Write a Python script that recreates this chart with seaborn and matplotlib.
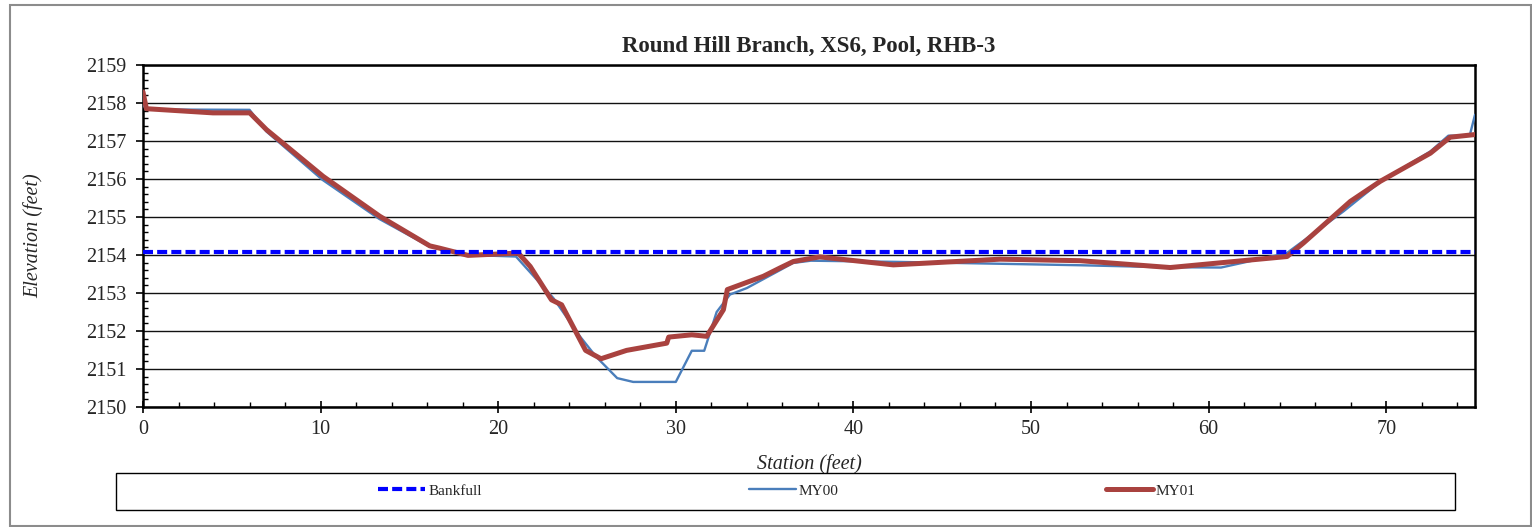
import numpy as np
import pandas as pd
import matplotlib
matplotlib.use("Agg")
import matplotlib.pyplot as plt
from matplotlib.ticker import MultipleLocator
from matplotlib.lines import Line2D
from matplotlib.patches import Rectangle
import seaborn as sns

# Cross-section survey data (station in feet, elevation in feet)
my00_station = [0.0, 0.2, 6.0, 6.95, 10.1, 13.3, 16.15, 18.3, 21.0, 23.1, 24.6, 25.5,
                26.7, 27.6, 30.0, 30.9, 31.6, 32.3, 33.05, 34.0, 35.9, 36.6, 37.6,
                42.3, 52.8, 57.3, 60.7, 64.4, 67.6, 69.7, 72.5, 73.5, 74.7, 75.0]
my00_elev = [2157.95, 2157.83, 2157.82, 2157.25, 2155.98, 2154.95, 2154.22, 2154.00,
             2153.96, 2152.87, 2151.86, 2151.33, 2150.76, 2150.66, 2150.66, 2151.48,
             2151.48, 2152.50, 2152.96, 2153.13, 2153.61, 2153.79, 2153.85, 2153.82,
             2153.73, 2153.68, 2153.67, 2154.05, 2155.15, 2155.94, 2156.73, 2157.14,
             2157.14, 2157.69]

my01_station = [0.0, 0.19, 3.94, 6.01, 6.95, 10.14, 13.33, 16.15, 16.7, 18.3, 21.13,
                21.8, 23.0, 23.57, 24.92, 25.79, 27.23, 29.49, 29.6, 30.9, 31.74,
                32.68, 32.9, 34.93, 35.87, 36.62, 38.1, 42.25, 48.26, 52.77, 57.84,
                64.42, 65.35, 67.98, 69.67, 72.49, 73.6, 75.0]
my01_elev = [2158.29, 2157.85, 2157.74, 2157.74, 2157.30, 2156.07, 2155.02, 2154.24,
             2154.18, 2153.99, 2154.05, 2153.70, 2152.82, 2152.69, 2151.49, 2151.27,
             2151.49, 2151.68, 2151.84, 2151.90, 2151.86, 2152.56, 2153.09, 2153.44,
             2153.66, 2153.83, 2153.95, 2153.74, 2153.89, 2153.85, 2153.67, 2153.96,
             2154.32, 2155.41, 2155.94, 2156.68, 2157.10, 2157.17]

bankfull_station = [0.0, 75.0]
bankfull_elev = [2154.09, 2154.09]

title = "Round Hill Branch, XS6, Pool, RHB-3"
series_labels = ["Bankfull", "MY00", "MY01"]
series_colors = ["#0000FF", "#4A7EBB", "#A9423F"]

sns.set_style("white")
plt.rcParams["font.family"] = ["Liberation Serif", "DejaVu Serif"]

W, H = 1532, 527
fig = plt.figure(figsize=(W / 100, H / 100), dpi=100)
ax = fig.add_axes([143 / W, 1 - 407 / H, (1475 - 143) / W, (407 - 65) / H])

df00 = pd.DataFrame({"Station": my00_station, "Elevation": my00_elev})
df01 = pd.DataFrame({"Station": my01_station, "Elevation": my01_elev})
dfbf = pd.DataFrame({"Station": bankfull_station, "Elevation": bankfull_elev})

bf_style = (0, (2.4, 1.0))

sns.lineplot(data=df00, x="Station", y="Elevation", sort=False, estimator=None,
             color=series_colors[1], lw=1.7, ax=ax, zorder=3)
sns.lineplot(data=df01, x="Station", y="Elevation", sort=False, estimator=None,
             color=series_colors[2], lw=3.6, ax=ax, zorder=4)
sns.lineplot(data=dfbf, x="Station", y="Elevation", sort=False, estimator=None,
             color=series_colors[0], lw=3.0, ax=ax, zorder=5)
ax.lines[-1].set_linestyle(bf_style)

ax.set_xlim(0, 75)
ax.set_ylim(2150, 2159)
ax.xaxis.set_major_locator(MultipleLocator(10))
ax.xaxis.set_minor_locator(MultipleLocator(2))
ax.yaxis.set_major_locator(MultipleLocator(1))
ax.yaxis.set_minor_locator(MultipleLocator(0.2))

ax.grid(axis="y", which="major", color="#111111", lw=1.0, zorder=1)
ax.grid(axis="x", visible=False)
ax.set_axisbelow(True)

for side in ["left", "right", "top", "bottom"]:
    ax.spines[side].set_visible(True)
    ax.spines[side].set_color("black")
    ax.spines[side].set_linewidth(1.8)

ax.tick_params(axis="x", which="major", bottom=True, direction="inout", length=8,
               width=1.2, color="black", labelsize=14.5, pad=5)
ax.tick_params(axis="x", which="minor", bottom=True, direction="in", length=3.5,
               width=1.0, color="black")
ax.tick_params(axis="y", which="major", left=True, direction="out", length=5,
               width=1.2, color="black", labelsize=14.5, pad=7)
ax.tick_params(axis="y", which="minor", left=True, direction="in", length=3.5,
               width=1.0, color="black")

ax.set_xlabel("Station (feet)", fontstyle="italic", fontsize=14.5)
ax.set_ylabel("Elevation (feet)", fontstyle="italic", fontsize=14.5)
ax.xaxis.set_label_coords(0.5, -0.137)
ax.yaxis.set_label_coords(-0.075, 0.5)

ax.text(0.5, 1.0556, title, transform=ax.transAxes, ha="center", va="center",
        fontsize=16.5, fontweight="bold")

handles = [
    Line2D([], [], color=series_colors[0], lw=3.0, linestyle=bf_style),
    Line2D([], [], color=series_colors[1], lw=1.7),
    Line2D([], [], color=series_colors[2], lw=3.6),
]
fs = 11
fpx = fs * 100 / 72
fig.legend(handles, series_labels, loc="center",
           bbox_to_anchor=(787 / W, 1 - 491 / H), ncol=3, frameon=False,
           fontsize=fs, handlelength=47 / fpx, handletextpad=0.2,
           columnspacing=267 / fpx)

fig.add_artist(Rectangle((116 / W, 1 - 510 / H), (1455 - 116) / W, 37 / H,
                         transform=fig.transFigure, fill=False, ec="black", lw=1.0))
fig.add_artist(Rectangle((10 / W, 1 - 525.5 / H), (1531 - 10) / W, (525.5 - 5) / H,
                         transform=fig.transFigure, fill=False, ec="#8c8c8c", lw=1.5))

fig.savefig("out.png", dpi=100, facecolor="white")
